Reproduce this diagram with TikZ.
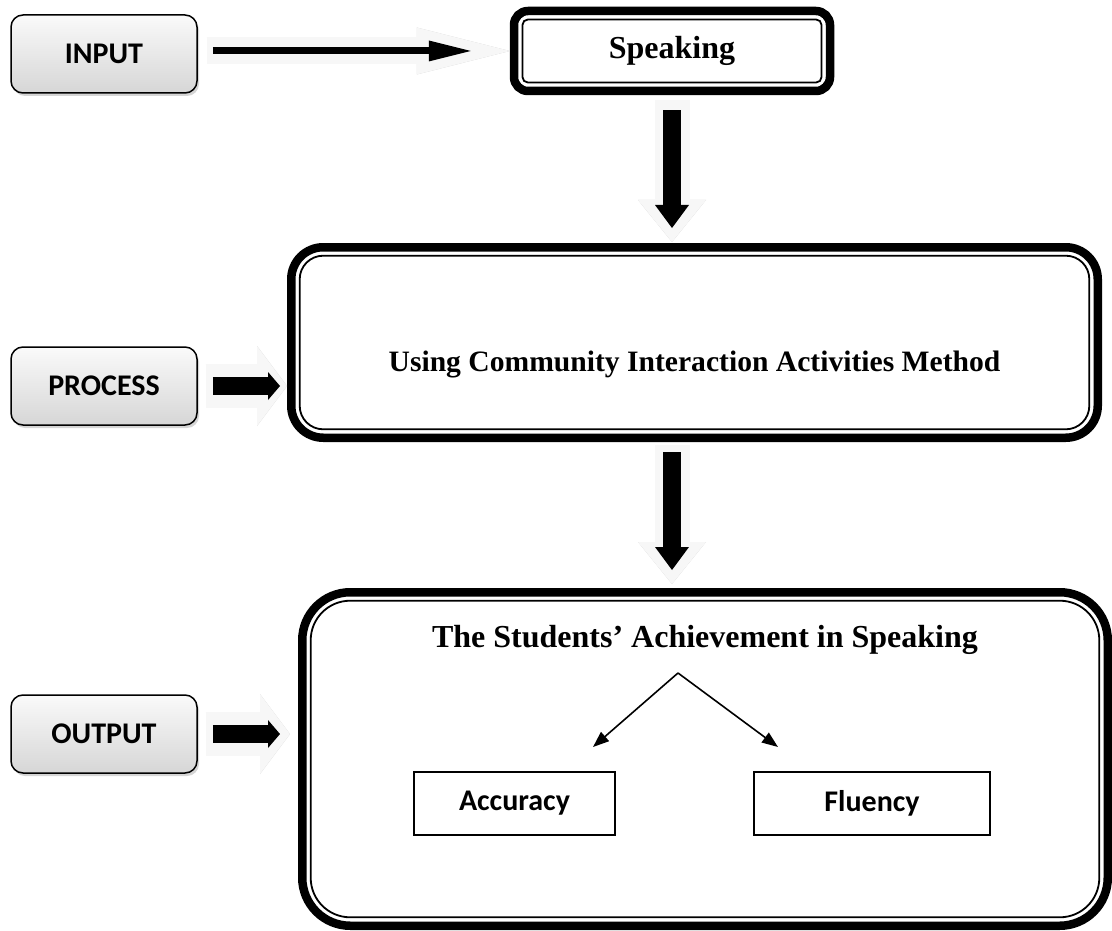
\documentclass[tikz,border=0pt]{standalone}
\usepackage{fontspec}
\setmainfont{Liberation Serif}
\newfontfamily\calibri{Carlito}
\usetikzlibrary{positioning, calc, arrows.meta, shadows}

\begin{document}
\begin{tikzpicture}[
  x=1pt, y=-1pt,
  tagbox/.style={rectangle, draw, rounded corners=12pt, line width=1.5pt, top color=gray!4, bottom color=gray!32, drop shadow={shadow xshift=2pt, shadow yshift=-3pt, fill=gray!65}, minimum width=186pt, minimum height=78pt, font=\calibri\bfseries\fontsize{30}{36}\selectfont},
  framebox/.style={rectangle, draw, line width=8.5pt, inner sep=0pt},
  innerline/.style={line width=1.8pt},
  title/.style={font=\bfseries\fontsize{32}{38}\selectfont},
  smallbox/.style={rectangle, draw, line width=1.2pt, minimum height=63pt, font=\calibri\bfseries\fontsize{30}{36}\selectfont},
  thinarrow/.style={line width=1.6pt, -{Triangle[length=16pt 0 0, width=12pt 0 0]}},
  light/.style={gray!6},
  dropgray/.style={gray!40, xshift=2pt, yshift=-3pt},
  inwide/.style={line width=27pt, -{Triangle[length=93pt 0 0, width=47pt 0 0, line width=0pt 0 0]}},
  inblack/.style={line width=7pt, -{Triangle[length=42pt 0 0, width=21pt 0 0, line width=0pt 0 0]}},
  sidewide/.style={line width=44pt, -{Triangle[length=30pt 0 0, width=80pt 0 0, line width=0pt 0 0]}},
  sideblack/.style={line width=18pt, -{Triangle[length=12pt 0 0, width=28pt 0 0, line width=0pt 0 0]}},
  downwide/.style={line width=35pt, -{Triangle[length=42pt 0 0, width=68pt 0 0, line width=0pt 0 0]}},
  downblack/.style={line width=18pt, -{Triangle[length=23pt 0 0, width=34pt 0 0, line width=0pt 0 0]}}
]
\useasboundingbox (0,0) rectangle (1112,931);

%------------------------------------------------
% Left labels
%------------------------------------------------
\node[tagbox] (inp) at (104,54) {INPUT};
\node[tagbox] (proc) at (104,386) {PROCESS};
\node[tagbox] (outp) at (104,734) {OUTPUT};

%------------------------------------------------
% Framed boxes
%------------------------------------------------
\node[framebox, rounded corners=14pt, minimum width=316pt, minimum height=80pt, title] (speak) at (672,51) {Speaking};
\draw[innerline, rounded corners=5.5pt] ($(speak.north west)+(12.7,12.7)$) rectangle ($(speak.south east)+(-12.7,-12.7)$);

\node[framebox, rounded corners=32pt, minimum width=806.5pt, minimum height=190.5pt] (method) at (694.5,342.5) {};
\draw[innerline, rounded corners=23.5pt] ($(method.north west)+(12.7,12.7)$) rectangle ($(method.south east)+(-12.7,-12.7)$);
\node[font=\bfseries\fontsize{29.6}{36}\selectfont] (methodtxt) at ($(method)+(0,22)$) {Using Community Interaction Activities Method};

\node[framebox, rounded corners=48pt, minimum width=805.5pt, minimum height=333.5pt] (result) at (705,759) {};
\draw[innerline, rounded corners=39.5pt] ($(result.north west)+(12.7,12.7)$) rectangle ($(result.south east)+(-12.7,-12.7)$);
\node[title] (studtxt) at ($(result.north)+(0,52)$) {The Students' Achievement in Speaking};

% Accuracy and Fluency
\node[smallbox, minimum width=201pt] (acc) at (514.5,803.5) {Accuracy};
\node[smallbox, minimum width=236pt] (flu) at (872,803.5) {Fluency};

\coordinate (split) at (678,673);
\coordinate (accend) at (593,747);
\coordinate (fluend) at (778,747);
\draw[thinarrow] (split) -- (accend);
\draw[thinarrow] (split) -- (fluend);

%------------------------------------------------
% Block arrows
%------------------------------------------------
% input -> speaking
\draw[inwide, dropgray, shorten <=9pt, shorten >=0pt] (speak.west -| inp.east) -- (speak.west);
\draw[inwide, light, shorten <=9pt, shorten >=0pt] (speak.west -| inp.east) -- (speak.west);
\draw[inblack, shorten <=15pt, shorten >=39pt] (speak.west -| inp.east) -- (speak.west);

% speaking -> method
\draw[downwide, dropgray, shorten <=5pt, shorten >=1pt] (speak.south) -- (speak.south |- method.north);
\draw[downwide, light, shorten <=5pt, shorten >=1pt] (speak.south) -- (speak.south |- method.north);
\draw[downblack, shorten <=15pt, shorten >=15pt] (speak.south) -- (speak.south |- method.north);

% method -> result
\draw[downwide, dropgray, shorten <=3pt, shorten >=4pt] (speak.south |- method.south) -- (speak.south |- result.north);
\draw[downwide, light, shorten <=3pt, shorten >=4pt] (speak.south |- method.south) -- (speak.south |- result.north);
\draw[downblack, shorten <=10pt, shorten >=18pt] (speak.south |- method.south) -- (speak.south |- result.north);

% process -> method
\draw[sidewide, dropgray, shorten <=8pt, shorten >=0pt] (proc.east) -- (proc.east -| method.west);
\draw[sidewide, light, shorten <=8pt, shorten >=0pt] (proc.east) -- (proc.east -| method.west);
\draw[sideblack, shorten <=15pt, shorten >=7pt] (proc.east) -- (proc.east -| method.west);

% output -> result
\draw[sidewide, dropgray, shorten <=8pt, shorten >=8pt] (outp.east) -- (outp.east -| result.west);
\draw[sidewide, light, shorten <=8pt, shorten >=8pt] (outp.east) -- (outp.east -| result.west);
\draw[sideblack, shorten <=15pt, shorten >=18pt] (outp.east) -- (outp.east -| result.west);

\end{tikzpicture}
\end{document}
